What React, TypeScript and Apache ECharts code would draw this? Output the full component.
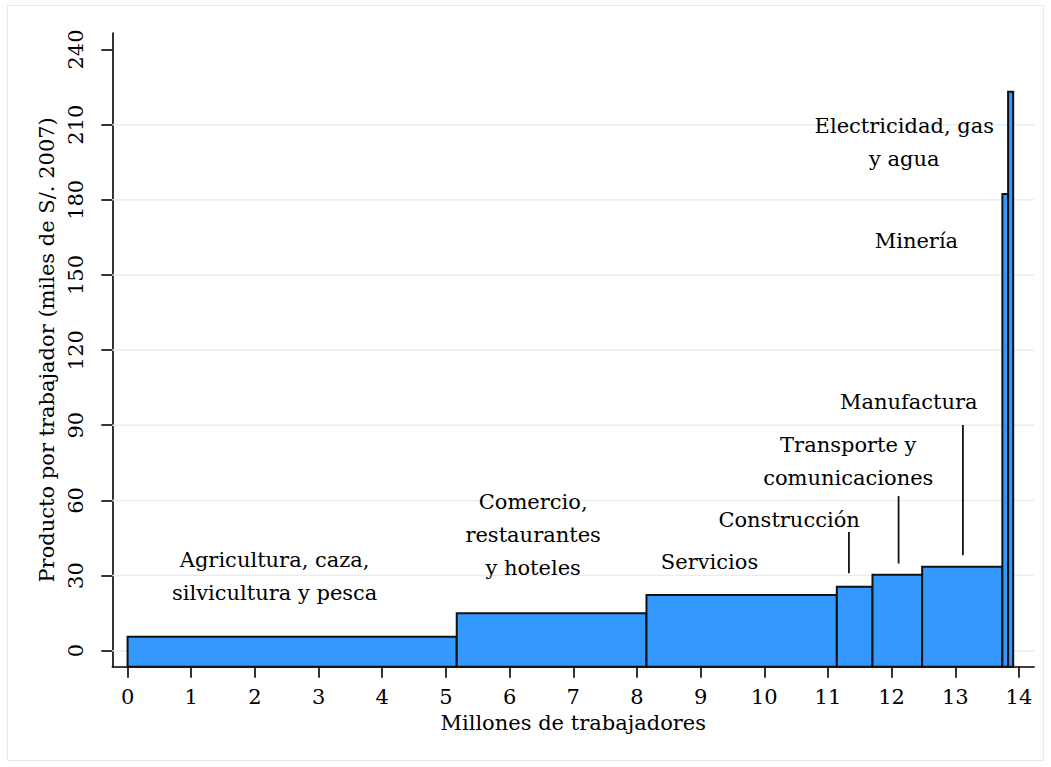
import React, { useEffect, useRef } from "react";
import * as echarts from "echarts";

// Sectors, employed workers (millions) and output per worker (thousand S/. 2007)
const sectors = [
  "Agricultura, caza,\nsilvicultura y pesca",
  "Comercio,\nrestaurantes\ny hoteles",
  "Servicios",
  "Construcción",
  "Transporte y\ncomunicaciones",
  "Manufactura",
  "Minería",
  "Electricidad, gas\ny agua",
];
const workers = [5.17, 2.98, 2.99, 0.56, 0.78, 1.26, 0.09, 0.08];
const productivity = [5.6, 14.9, 22.2, 25.5, 30.3, 33.5, 182.3, 223.1];

// label anchor positions (data coordinates)
const labelX = [2.31, 6.37, 9.14, 10.39, 11.32, 12.27, 12.39, 12.2];
const labelY = [29.6, 46.0, 35.3, 52.1, 75.5, 99.1, 163.4, 203.0];

// leader lines: x, top y, bottom y
const leaderX = [11.33, 12.11, 13.12];
const leaderTop = [47.4, 61.7, 90.1];
const leaderBottom = [30.9, 34.8, 38.1];

const xTicks = [0, 1, 2, 3, 4, 5, 6, 7, 8, 9, 10, 11, 12, 13, 14];
const yTicks = [0, 30, 60, 90, 120, 150, 180, 210, 240];
const gridY = [0, 30, 60, 90, 120, 150, 180, 210];

const X_MIN = -0.24;
const X_MAX = 14.24;
const Y_MIN = -6.4;
const Y_MAX = 246.6;

const FONT = "DejaVu Serif";

export default function App() {
  const ref = useRef<HTMLDivElement>(null);

  useEffect(() => {
    if (!ref.current) return;
    const chart = echarts.init(ref.current, undefined, { renderer: "svg" });

    const barData: number[][] = [];
    let acc = 0;
    workers.forEach((w, i) => {
      barData.push([acc, acc + w, productivity[i]]);
      acc += w;
    });

    const option: any = {
      animation: false,
      backgroundColor: "#ffffff",
      graphic: [
        {
          type: "rect",
          silent: true,
          z: -10,
          shape: { x: 7.5, y: 5.5, width: 1036, height: 755 },
          style: { fill: "none", stroke: "#e4ebee", lineWidth: 1 },
        },
      ],
      grid: { left: 112.3, right: 16.8, top: 33, bottom: 100.3, containLabel: false },
      xAxis: {
        type: "value",
        min: X_MIN,
        max: X_MAX,
        axisLine: { show: true, onZero: false, lineStyle: { color: "#000", width: 1.6 } },
        axisTick: { show: true, customValues: xTicks, length: 11, lineStyle: { color: "#000", width: 1.6 } },
        axisLabel: {
          show: true,
          customValues: xTicks,
          color: "#000",
          fontFamily: FONT,
          fontSize: 21,
          margin: 20,
        },
        splitLine: { show: false },
        name: "Millones de trabajadores",
        nameLocation: "middle",
        nameGap: 44,
        nameTextStyle: { color: "#000", fontFamily: FONT, fontSize: 21 },
      },
      yAxis: {
        type: "value",
        min: Y_MIN,
        max: Y_MAX,
        axisLine: { show: true, onZero: false, lineStyle: { color: "#000", width: 1.6 } },
        axisTick: { show: true, customValues: yTicks, length: 11, lineStyle: { color: "#000", width: 1.6 } },
        axisLabel: {
          show: true,
          customValues: yTicks,
          rotate: 90,
          color: "#000",
          fontFamily: FONT,
          fontSize: 21,
          margin: 26,
        },
        splitLine: { show: false },
        name: "Producto por trabajador (miles de S/. 2007)",
        nameLocation: "middle",
        nameGap: 50,
        nameTextStyle: { color: "#000", fontFamily: FONT, fontSize: 21 },
      },
      series: [
        {
          type: "custom",
          name: "grid",
          z: 1,
          silent: true,
          data: gridY.map((v) => [v]),
          encode: { y: 0 },
          renderItem: (params: any, api: any) => {
            const v = api.value(0);
            const a = api.coord([X_MIN, v]);
            const b = api.coord([X_MAX, v]);
            return {
              type: "line",
              shape: { x1: a[0], y1: a[1], x2: b[0], y2: b[1] },
              style: { stroke: "#e6eef1", lineWidth: 1.5 },
            };
          },
        },
        {
          type: "custom",
          name: "bars",
          z: 3,
          data: barData,
          encode: { x: [0, 1], y: 2 },
          renderItem: (params: any, api: any) => {
            const x0 = api.value(0);
            const x1 = api.value(1);
            const y = api.value(2);
            const p0 = api.coord([x0, Y_MIN]);
            const p1 = api.coord([x1, y]);
            return {
              type: "rect",
              shape: { x: p0[0], y: p1[1], width: p1[0] - p0[0], height: p0[1] - p1[1] },
              style: { fill: "#3399ff", stroke: "#111111", lineWidth: 2 },
            };
          },
        },
        {
          type: "custom",
          name: "leaders",
          z: 4,
          silent: true,
          data: leaderX.map((x, i) => [x, leaderTop[i], leaderBottom[i]]),
          encode: { x: 0, y: [1, 2] },
          renderItem: (params: any, api: any) => {
            const a = api.coord([api.value(0), api.value(1)]);
            const b = api.coord([api.value(0), api.value(2)]);
            return {
              type: "line",
              shape: { x1: a[0], y1: a[1], x2: b[0], y2: b[1] },
              style: { stroke: "#111111", lineWidth: 1.8 },
            };
          },
        },
        {
          type: "custom",
          name: "labels",
          z: 5,
          silent: true,
          data: labelX.map((x, i) => [x, labelY[i], i]),
          encode: { x: 0, y: 1 },
          renderItem: (params: any, api: any) => {
            const p = api.coord([api.value(0), api.value(1)]);
            const idx = api.value(2);
            return {
              type: "text",
              x: p[0],
              y: p[1],
              style: {
                text: sectors[idx],
                fill: "#000",
                fontFamily: FONT,
                fontSize: 21,
                lineHeight: 33,
                align: "center",
                verticalAlign: "middle",
              },
            };
          },
        },
      ],
    };

    chart.setOption(option);
    return () => chart.dispose();
  }, []);

  return (
    <div
      ref={ref}
      style={{ position: "absolute", left: 0, top: 0, width: 1051, height: 767, background: "#fff" }}
    />
  );
}
